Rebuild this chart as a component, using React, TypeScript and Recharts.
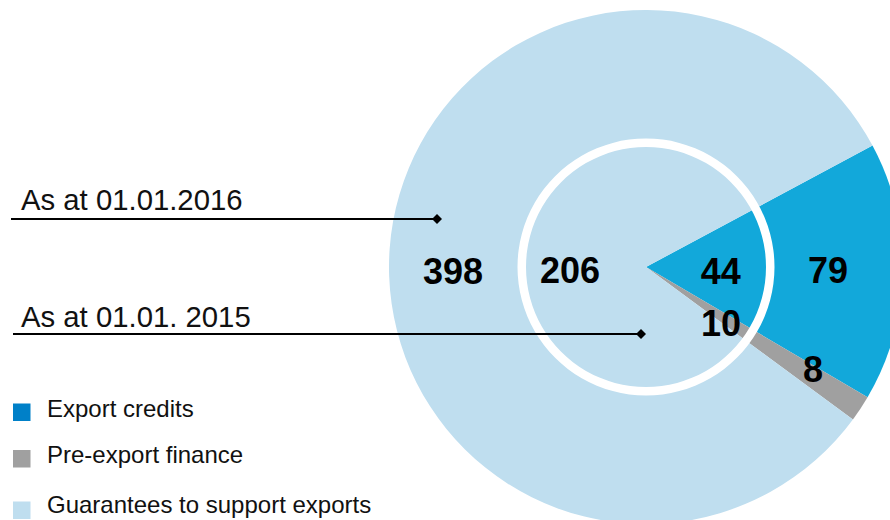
import React from 'react';
import { PieChart, Pie, Cell } from 'recharts';

const categories = ['Export credits', 'Pre-export finance', 'Guarantees to support exports'];
const values2016 = [79, 8, 398];
const values2015 = [44, 10, 206];
const periodLabels = ['As at 01.01.2016', 'As at 01.01. 2015'];

const SLICE_COLORS = ['#12A8DA', '#A0A0A0', '#BFDEEF'];
const LEGEND_COLORS = ['#0080C8', '#A0A0A0', '#BFDEEF'];

const data2016 = categories.map((name, i) => ({ name, value: values2016[i] }));
const data2015 = categories.map((name, i) => ({ name, value: values2015[i] }));
const ringData = [{ name: 'ring', value: 1 }];

// label placement (radius, angle in degrees) relative to the pie centre
const LABEL_POLAR_2016: [number, number][] = [[182, -1], [196, -31.5], [193, 181.3]];
const LABEL_POLAR_2015: [number, number][] = [[75, -3.8], [94, -37], [76, 183]];

const FONT = '"Liberation Sans", Arial, Helvetica, sans-serif';

const makeLabel = (polar: [number, number][]) => (props: any) => {
  const { cx, cy, index, value } = props;
  const [r, a] = polar[index];
  const rad = (a * Math.PI) / 180;
  const x = cx + r * Math.cos(rad);
  const y = cy - r * Math.sin(rad);
  return (
    <text
      key={`l-${index}`}
      x={x}
      y={y}
      textAnchor="middle"
      dominantBaseline="central"
      fontSize={36}
      fontWeight="bold"
      fontFamily={FONT}
      fill="#000"
    >
      {value}
    </text>
  );
};

const CX = 646;
const CY = 267;

export default function App() {
  return (
    <div style={{ position: 'absolute', left: 0, top: 0, width: 890, height: 520, background: '#fff', overflow: 'hidden' }}>
      <PieChart width={890} height={520} margin={{ top: 0, right: 0, bottom: 0, left: 0 }}>
        <Pie
          data={data2016}
          dataKey="value"
          cx={CX}
          cy={CY}
          outerRadius={257}
          innerRadius={0}
          startAngle={28.2}
          endAngle={28.2 - 360}
          stroke="none"
          isAnimationActive={false}
          label={makeLabel(LABEL_POLAR_2016)}
          labelLine={false}
        >
          {data2016.map((d, i) => (
            <Cell key={d.name} fill={SLICE_COLORS[i]} />
          ))}
        </Pie>
        <Pie
          data={ringData}
          dataKey="value"
          cx={CX}
          cy={CY}
          innerRadius={120}
          outerRadius={128.5}
          startAngle={0}
          endAngle={360}
          fill="#ffffff"
          stroke="none"
          isAnimationActive={false}
          label={false}
          labelLine={false}
        />
        <Pie
          data={data2015}
          dataKey="value"
          cx={CX}
          cy={CY}
          outerRadius={120}
          startAngle={28.2}
          endAngle={28.2 - 360}
          fill="transparent"
          fillOpacity={0}
          stroke="none"
          isAnimationActive={false}
          label={makeLabel(LABEL_POLAR_2015)}
          labelLine={false}
        />
      </PieChart>
      <svg width={890} height={520} style={{ position: 'absolute', left: 0, top: 0, pointerEvents: 'none' }}>
        <text x={21} y={210} fontSize={29.3} fontFamily={FONT} fill="#111">{periodLabels[0]}</text>
        <line x1={11} y1={219} x2={437} y2={219} stroke="#000" strokeWidth={2} />
        <polygon points="437,214 442,219 437,224 432,219" fill="#000" />
        <text x={21} y={327} fontSize={29.3} fontFamily={FONT} fill="#111">{periodLabels[1]}</text>
        <line x1={13} y1={334} x2={641} y2={334} stroke="#000" strokeWidth={2} />
        <polygon points="641,329 646,334 641,339 636,334" fill="#000" />
        {categories.map((c, i) => {
          const ys = [403.5, 450, 501.5];
          const bs = [417, 463, 513];
          return (
            <g key={c}>
              <rect x={13} y={ys[i]} width={17.5} height={17.5} fill={LEGEND_COLORS[i]} />
              <text x={47} y={bs[i]} fontSize={24} fontFamily={FONT} fill="#111">{c}</text>
            </g>
          );
        })}
      </svg>
    </div>
  );
}
